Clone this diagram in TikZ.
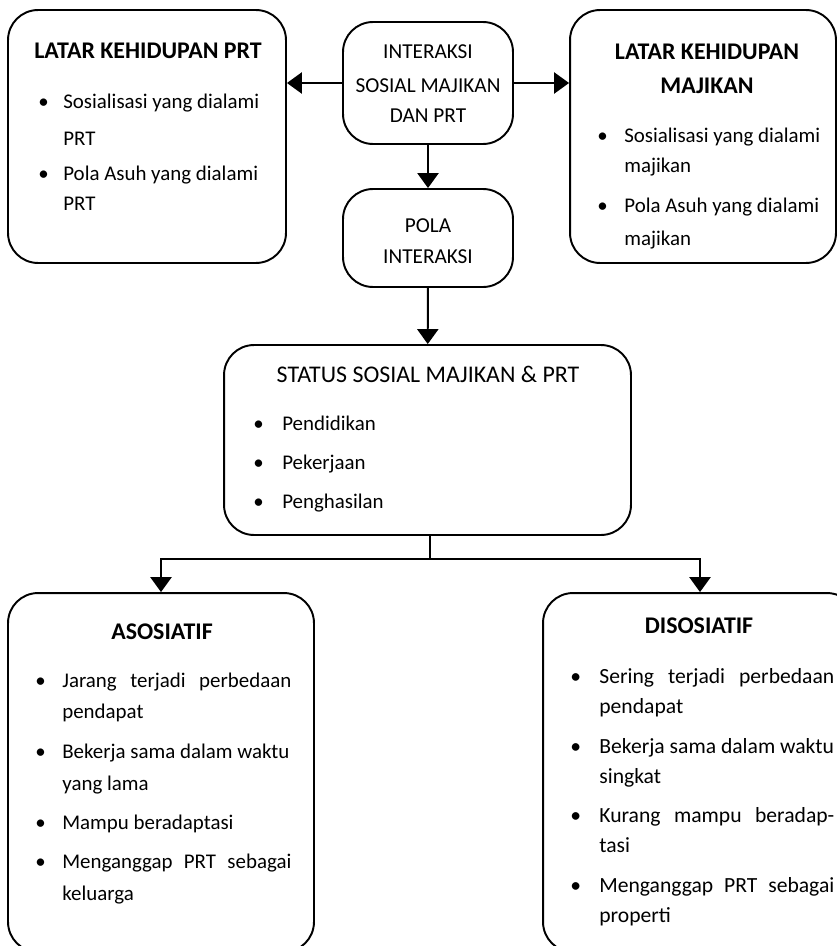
\documentclass[tikz,border=0pt]{standalone}
\usepackage{fontspec}
\setmainfont{Carlito}
\usetikzlibrary{arrows.meta}
\tikzset{
	box/.style={draw, line width=1.1pt, rounded corners=0.6cm, inner sep=0pt},
	arr/.style={line width=1.1pt, -{Triangle[width=12pt,length=8.5pt]}},
	txt/.style={anchor=base west, inner sep=0pt, font=\fontsize{11.9}{14}\selectfont},
	txtd/.style={anchor=base west, inner sep=0pt, font=\fontsize{12.3}{14}\selectfont},
	ttl/.style={anchor=base west, inner sep=0pt, font=\fontsize{13.6}{16}\selectfont\bfseries},
	ctr/.style={anchor=base, inner sep=0pt, font=\fontsize{12.1}{14}\selectfont},
	ctrb/.style={anchor=base, inner sep=0pt, font=\fontsize{13.6}{16}\selectfont\bfseries},
}
\begin{document}
\begin{tikzpicture}[x=0.02cm,y=-0.02cm]
	\clip (0,0) rectangle (837,946) ;
	% boites
	\node[box, minimum width=5.56cm, minimum height=5.06cm] (latprt) at (147,136.5) {} ;
	\node[box, minimum width=3.40cm, minimum height=2.44cm] (inter) at (428,83) {} ;
	\node[box, minimum width=3.40cm, minimum height=1.96cm] (pola) at (428,238) {} ;
	\node[box, minimum width=5.32cm, minimum height=5.06cm] (latmaj) at (703,136.5) {} ;
	\node[box, minimum width=8.14cm, minimum height=3.80cm] (status) at (427.5,440) {} ;
	\node[box, minimum width=6.12cm, minimum height=7.18cm] (asos) at (161,772.5) {} ;
	\node[box, minimum width=6.28cm, minimum height=7.18cm] (disos) at (700,772.5) {} ;
	% fleches
	\draw[arr] (inter.west) -- (inter.west -| latprt.east) ;
	\draw[arr] (inter.east) -- (inter.east -| latmaj.west) ;
	\draw[arr] (inter) -- (pola) ;
	\draw[arr] (pola) -- (status) ;
	\coordinate (split) at (430,559) ;
	\draw[line width=1.1pt] (status.south -| split) -- (split) ;
	\draw[arr] (split) -| (asos.north) ;
	\draw[arr] (split) -| (disos.north) ;
	% latar kehidupan PRT
	\node[ttl] (latprt-t) at (34,59) {LATAR KEHIDUPAN PRT} ;
	\node[txt] (latprt-b1) at (38,109) {•} ;
	\node[txt] (latprt-1) at (63,109) {Sosialisasi yang dialami} ;
	\node[txt] (latprt-2) at (63,145) {PRT} ;
	\node[txt] (latprt-b2) at (38,180) {•} ;
	\node[txt] (latprt-3) at (63,180) {Pola Asuh yang dialami} ;
	\node[txt] (latprt-4) at (63,210) {PRT} ;
	% interaksi
	\node[ctr] (inter-1) at (428,59) {INTERAKSI} ;
	\node[ctr] (inter-2) at (428,92) {SOSIAL MAJIKAN} ;
	\node[ctr] (inter-3) at (428,122) {DAN PRT} ;
	\node[ctr] (pola-1) at (428,232) {POLA} ;
	\node[ctr] (pola-2) at (428,263) {INTERAKSI} ;
	% latar kehidupan majikan
	\node[ctrb] (latmaj-t1) at (707,60) {LATAR KEHIDUPAN} ;
	\node[ctrb] (latmaj-t2) at (707,93) {MAJIKAN} ;
	\node[txt] (latmaj-b1) at (597,142) {•} ;
	\node[txt] (latmaj-1) at (624,142) {Sosialisasi yang dialami} ;
	\node[txt] (latmaj-2) at (624,172) {majikan} ;
	\node[txt] (latmaj-b2) at (597,212) {•} ;
	\node[txt] (latmaj-3) at (624,212) {Pola Asuh yang dialami} ;
	\node[txt] (latmaj-4) at (624,245) {majikan} ;
	% status sosial
	\node[ctr, font=\fontsize{13.6}{16}\selectfont] (status-t) at (428,382) {STATUS SOSIAL MAJIKAN \& PRT} ;
	\node[txt] (status-b1) at (253,430) {•} ;
	\node[txt] (status-1) at (282,430) {Pendidikan} ;
	\node[txt] (status-b2) at (253,469) {•} ;
	\node[txt] (status-2) at (282,469) {Pekerjaan} ;
	\node[txt] (status-b3) at (253,508) {•} ;
	\node[txt] (status-3) at (282,508) {Penghasilan} ;
	% asosiatif
	\node[ctrb] (asos-t) at (162,639) {ASOSIATIF} ;
	\node[txt] (asos-b1) at (35,687) {•} ;
	\node[txt] (asos-1) at (62,687) {\makebox[4.58cm][s]{Jarang terjadi perbedaan}} ;
	\node[txt] (asos-2) at (62,718) {pendapat} ;
	\node[txt] (asos-b2) at (35,758) {•} ;
	\node[txt] (asos-3) at (62,758) {Bekerja sama dalam waktu} ;
	\node[txt] (asos-4) at (62,790) {yang lama} ;
	\node[txt] (asos-b3) at (35,829) {•} ;
	\node[txt] (asos-5) at (62,829) {Mampu beradaptasi} ;
	\node[txt] (asos-b4) at (35,868) {•} ;
	\node[txt] (asos-6) at (62,868) {\makebox[4.58cm][s]{Menganggap PRT sebagai}} ;
	\node[txt] (asos-7) at (62,900) {keluarga} ;
	% disosiatif
	\node[ctrb] (disos-t) at (699,633) {DISOSIATIF} ;
	\node[txtd] (disos-b1) at (570,683) {•} ;
	\node[txtd] (disos-1) at (599,683) {\makebox[4.70cm][s]{Sering terjadi perbedaan}} ;
	\node[txtd] (disos-2) at (599,713) {pendapat} ;
	\node[txtd] (disos-b2) at (570,753) {•} ;
	\node[txtd] (disos-3) at (599,753) {Bekerja sama dalam waktu} ;
	\node[txtd] (disos-4) at (599,783) {singkat} ;
	\node[txtd] (disos-b3) at (570,822) {•} ;
	\node[txtd] (disos-5) at (599,822) {\makebox[4.70cm][s]{Kurang mampu beradap-}} ;
	\node[txtd] (disos-6) at (599,852) {tasi} ;
	\node[txtd] (disos-b4) at (570,892) {•} ;
	\node[txtd] (disos-7) at (599,892) {\makebox[4.70cm][s]{Menganggap PRT sebagai}} ;
	\node[txtd] (disos-8) at (599,922) {properti} ;
\end{tikzpicture}
\end{document}
